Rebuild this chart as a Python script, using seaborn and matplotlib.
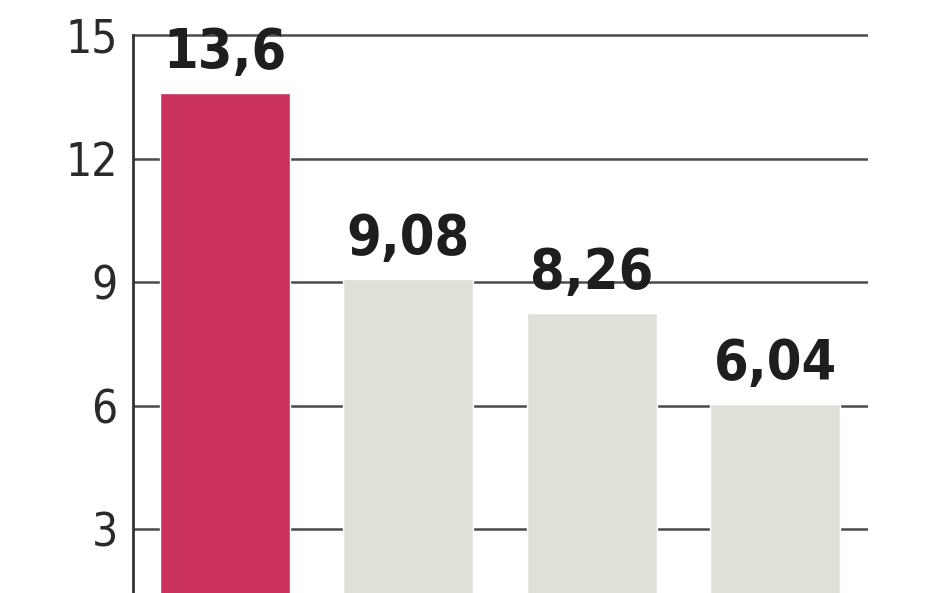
import numpy as np
import pandas as pd
import matplotlib.pyplot as plt
import seaborn as sns

# values
categories = ['A', 'B', 'C', 'D']
values = [13.6, 9.08, 8.26, 6.04]
value_labels = ['13,6', '9,08', '8,26', '6,04']
bar_colors = ['#CB325B', '#E0E0D9', '#E0E0D9', '#E0E0D9']
yticks = [3, 6, 9, 12, 15]

df = pd.DataFrame({'cat': categories, 'val': values})

sns.set_style('white')
plt.rcParams['font.family'] = ['DejaVu Sans']

fig = plt.figure(figsize=(9.48, 5.93), dpi=100)
ax = fig.add_axes([0.1403, 0.0, 0.7753, 1.0])

sns.barplot(data=df, x='cat', y='val', hue='cat', palette=bar_colors,
            legend=False, width=0.71, saturation=1, ax=ax, zorder=2)

ax.set_xlim(-0.502, 3.507)
ax.set_ylim(1.45, 15.85)
ax.set_yticks(yticks)
ax.set_yticklabels([str(t) for t in yticks], fontsize=33, color='#2a2a2a',
                   fontweight='light', fontstretch='condensed')
ax.tick_params(axis='y', length=0, pad=11)
ax.set_xticks([])
ax.set_xlabel('')
ax.set_ylabel('')

ax.yaxis.grid(True, color='#4a4a4a', lw=1.8)
ax.set_axisbelow(True)
for s in ['top', 'right', 'bottom']:
    ax.spines[s].set_visible(False)
ax.spines['left'].set_color('#333333')
ax.spines['left'].set_linewidth(2)
ax.spines['left'].set_bounds(1.45, 15)

for i, (v, lab) in enumerate(zip(values, value_labels)):
    ax.annotate(lab, (i, v), xytext=(0, 18), textcoords='offset points',
                ha='center', va='baseline', fontsize=40, fontweight='bold',
                fontstretch='condensed', color='#1e1e1e', zorder=5)

fig.savefig('out.png', dpi=100)
